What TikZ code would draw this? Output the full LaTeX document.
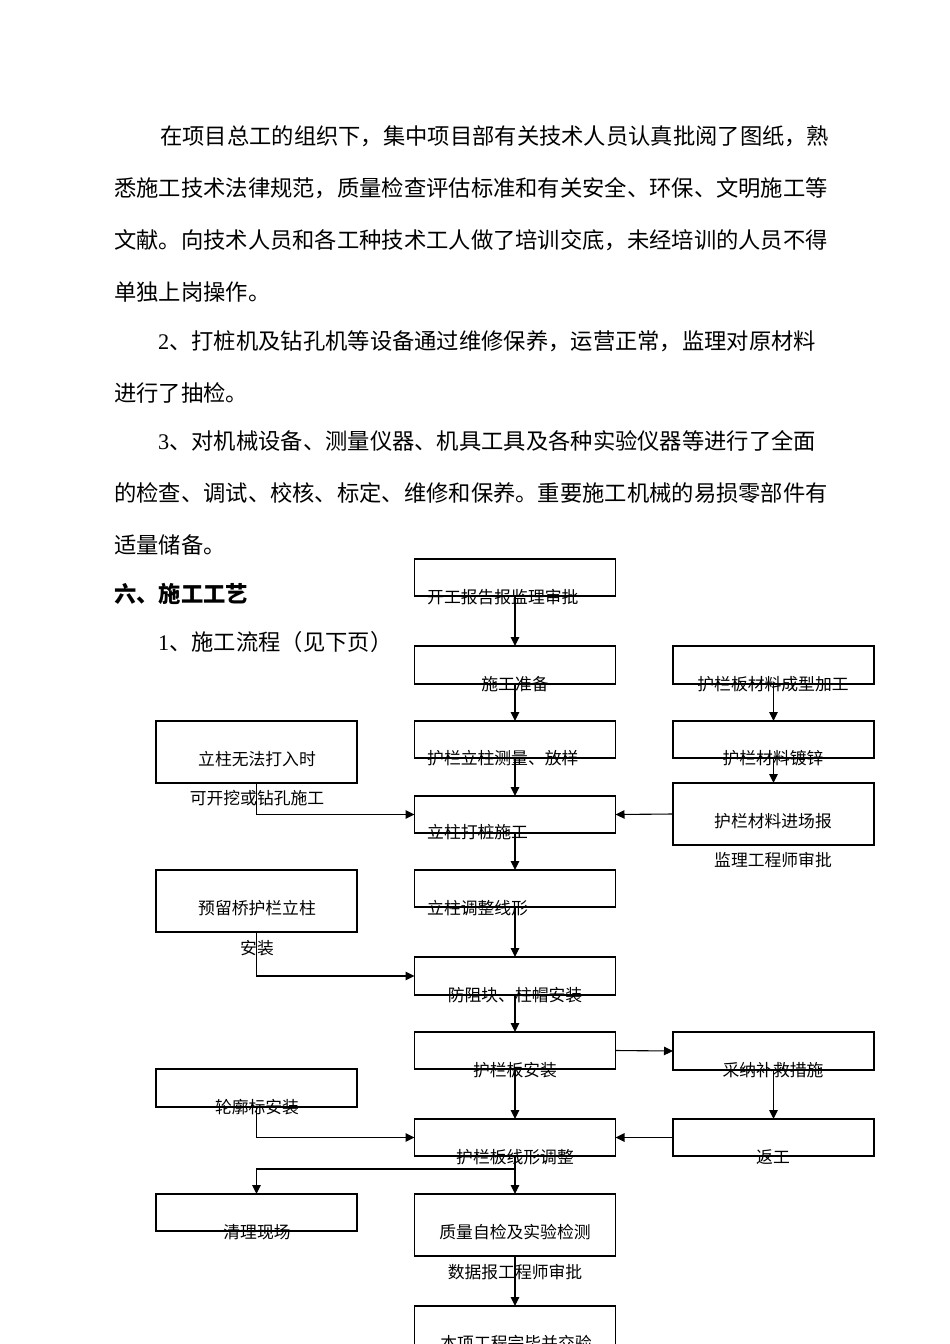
\documentclass[tikz,border=0pt]{standalone}
\usepackage{fontspec}
\setmainfont{Noto Sans CJK SC}
\newfontfamily\latinser{Liberation Serif}
\usetikzlibrary{arrows.meta}
\begin{document}
\begin{tikzpicture}[x=1pt,y=-1pt,
  body/.style={anchor=west,inner sep=0pt,font=\fontsize{22.3pt}{24pt}\selectfont},
  box/.style={draw,line width=1.1pt,minimum width=201pt,anchor=north west,inner sep=0pt,outer sep=0pt},
  btext/.style={inner sep=0pt,font=\fontsize{16.8pt}{18pt}\selectfont},
  arr/.style={line width=1.1pt,-{Triangle[length=9pt,width=8.5pt]}}]
\path[use as bounding box] (0,0) rectangle (950,1344);
\clip (0,0) rectangle (950,1344);
\fill[white] (0,0) rectangle (950,1344);
% body text
\node[body] (p1) at (160,136) {在项目总工的组织下，集中项目部有关技术人员认真批阅了图纸，熟};
\node[body] (p2) at (114,188) {悉施工技术法律规范，质量检查评估标准和有关安全、环保、文明施工等};
\node[body] (p3) at (114,240) {文献。向技术人员和各工种技术工人做了培训交底，未经培训的人员不得};
\node[body] (p4) at (114,292) {单独上岗操作。};
\node[body] (p5) at (158,341) {{\latinser 2}、打桩机及钻孔机等设备通过维修保养，运营正常，监理对原材料};
\node[body] (p6) at (114,393) {进行了抽检。};
\node[body] (p7) at (158,441) {{\latinser 3}、对机械设备、测量仪器、机具工具及各种实验仪器等进行了全面};
\node[body] (p8) at (114,493) {的检查、调试、校核、标定、维修和保养。重要施工机械的易损零部件有};
\node[body] (p9) at (114,545) {适量储备。};
\node[body,font=\fontsize{22.3pt}{24pt}\selectfont\bfseries] (h1) at (114,594) {六、施工工艺};
\node[body] (h2) at (158,642) {{\latinser 1}、施工流程（见下页）};
% center column boxes
\node[box,minimum height=37pt] (b1) at (414.5,559) {};
\node[box,minimum height=38pt] (b2) at (414.5,646) {};
\node[box,minimum height=37pt] (b3) at (414.5,721) {};
\node[box,minimum height=37pt] (b4) at (414.5,796) {};
\node[box,minimum height=37pt] (b5) at (414.5,870) {};
\node[box,minimum height=38pt] (b6) at (414.5,957) {};
\node[box,minimum height=37pt] (b7) at (414.5,1032) {};
\node[box,minimum height=37pt] (b8) at (414.5,1119) {};
\node[box,minimum height=62pt] (b9) at (414.5,1194) {};
\node[box,minimum height=60pt] (b10) at (414.5,1306) {};
% right column boxes
\node[box,minimum height=38pt] (r1) at (673,646) {};
\node[box,minimum height=37pt] (r2) at (673,721) {};
\node[box,minimum height=62pt] (r3) at (673,783) {};
\node[box,minimum height=38pt] (r4) at (673,1032) {};
\node[box,minimum height=37pt] (r5) at (673,1119) {};
% left column boxes
\node[box,minimum height=62pt] (l1) at (156,721) {};
\node[box,minimum height=62pt] (l2) at (156,870) {};
\node[box,minimum height=38pt] (l3) at (156,1069) {};
\node[box,minimum height=37pt] (l4) at (156,1194) {};
% box texts
\node[btext,anchor=west] (t1) at (427,597) {开工报告报监理审批};
\node[btext] (t2) at (515,684) {施工准备};
\node[btext,anchor=west] (t3) at (427,758) {护栏立柱测量、放样};
\node[btext,anchor=west] (t4) at (427,832) {立柱打桩施工};
\node[btext,anchor=west] (t5) at (427,908) {立柱调整线形};
\node[btext] (t6) at (515,995) {防阻块、柱帽安装};
\node[btext] (t7) at (515,1070) {护栏板安装};
\node[btext] (t8) at (515,1157) {护栏板线形调整};
\node[btext] (t9) at (515,1232) {质量自检及实验检测};
\node[btext] (t9b) at (515,1272) {数据报工程师审批};
\node[btext] (t10) at (516,1343) {本项工程完毕并交验};
\node[btext] (s1) at (773,684) {护栏板材料成型加工};
\node[btext] (s2) at (773,758) {护栏材料镀锌};
\node[btext] (s3) at (773,821) {护栏材料进场报};
\node[btext] (s3b) at (773,860) {监理工程师审批};
\node[btext] (s4) at (773,1070) {采纳补救措施};
\node[btext] (s5) at (773,1157) {返工};
\node[btext] (u1) at (257,759) {立柱无法打入时};
\node[btext] (u1b) at (257,798) {可开挖或钻孔施工};
\node[btext] (u2) at (257,908) {预留桥护栏立柱};
\node[btext] (u2b) at (257,948) {安装};
\node[btext] (u3) at (257,1107) {轮廓标安装};
\node[btext] (u4) at (257,1232) {清理现场};
% connectors
\draw[arr] (b1.south) -- (b2.north);
\draw[arr] (b2.south) -- (b3.north);
\draw[arr] (b3.south) -- (b4.north);
\draw[arr] (b4.south) -- (b5.north);
\draw[arr] (b5.south) -- (b6.north);
\draw[arr] (b6.south) -- (b7.north);
\draw[arr] (b7.south) -- (b8.north);
\draw[arr] (b8.south) -- (b9.north);
\draw[arr] (b9.south) -- (b10.north);
\draw[arr] (b8.south) -- ++(0,13) -| (l4.north);
\draw[arr] (r1.south) -- (r2.north);
\draw[arr] (r2.south) -- (r3.north);
\draw[arr] (r3.west) -- (b4.east);
\draw[arr] (l1.south) |- (b4.west);
\draw[arr] (l2.south) |- (b6.west);
\draw[arr] (l3.south) |- (b8.west);
\draw[arr] (b7.east) -- (r4.west);
\draw[arr] (r4.south) -- (r5.north);
\draw[arr] (r5.west) -- (b8.east);
\end{tikzpicture}
\end{document}
